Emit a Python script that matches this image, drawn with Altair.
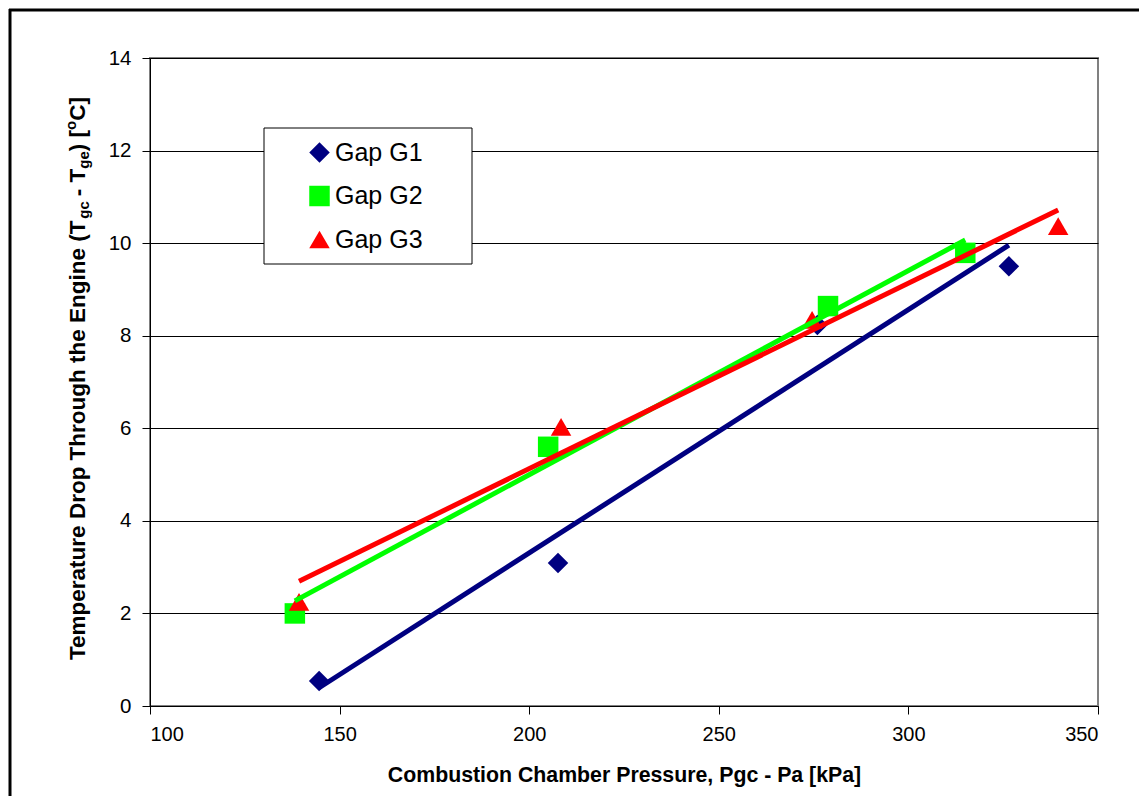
import altair as alt
import pandas as pd

# ---------------- data ----------------
series_names = ["Gap G1", "Gap G2", "Gap G3"]
g1_pressure = [144.6, 207.6, 276.0, 326.5]
g1_drop = [0.54, 3.09, 8.23, 9.50]
g2_pressure = [138.2, 205.0, 278.8, 315.0]
g2_drop = [2.00, 5.60, 8.64, 9.79]
g3_pressure = [139.3, 208.4, 274.6, 339.5]
g3_drop = [2.25, 6.03, 8.34, 10.37]

series_colors = ["#000080", "#00FF00", "#FF0000"]
series_shapes = ["diamond", "square", "triangle-up"]
x_ticks = [100, 150, 200, 250, 300, 350]
y_ticks = [0, 2, 4, 6, 8, 10, 12, 14]
x_title = "Combustion Chamber Pressure, Pgc - Pa [kPa]"

rows = []
for name, xs, ys in zip(series_names,
                        [g1_pressure, g2_pressure, g3_pressure],
                        [g1_drop, g2_drop, g3_drop]):
    for xv, yv in zip(xs, ys):
        rows.append({"series": name, "pressure": xv, "drop": yv})
df = pd.DataFrame(rows)
one = pd.DataFrame({"k": [0]})

W, H = 948, 648
FONT = "Liberation Sans"

xscale = alt.Scale(domain=[100, 350], nice=False, zero=False)
yscale = alt.Scale(domain=[0, 14], nice=False)

xaxis = alt.Axis(values=x_ticks, title=x_title, grid=False, tickSize=8,
                 tickColor="black", domainColor="black", labelPadding=10,
                 labelFontSize=20, labelFont=FONT, labelColor="black",
                 titleFont=FONT, titleFontSize=21.3, titleFontWeight="bold",
                 titleColor="black", titleY=58, titleBaseline="top")
yaxis = alt.Axis(values=y_ticks, title=None, grid=True, gridColor="black",
                 gridWidth=1, tickSize=8, tickColor="black", domainColor="black",
                 labelPadding=11, labelFontSize=20.5, labelFont=FONT,
                 labelColor="black")

X = alt.X("pressure:Q", scale=xscale, axis=xaxis)
Y = alt.Y("drop:Q", scale=yscale, axis=yaxis)

# outer frame (decoration): left and top edges
frame_left = alt.Chart(one).mark_rule(color="black", strokeWidth=3).encode(
    x=alt.value(-140), y=alt.value(-49), y2=alt.value(760))
frame_top = alt.Chart(one).mark_rule(color="black", strokeWidth=3).encode(
    x=alt.value(-141), x2=alt.value(1000), y=alt.value(-48))

# legend box (decoration)
legend_box = alt.Chart(one).mark_rect(fill="white", stroke="black",
                                      strokeWidth=1).encode(
    x=alt.value(114), x2=alt.value(322), y=alt.value(70), y2=alt.value(206))

leg = dict(orient="none", legendX=157, legendY=82, title=None,
           labelFontSize=25, labelFont=FONT, labelColor="black",
           symbolSize=420, symbolStrokeWidth=0, rowPadding=17.5,
           labelOffset=3, padding=0)

points = alt.Chart(df).mark_point(filled=True, opacity=1, size=420).encode(
    x=X, y=Y,
    color=alt.Color("series:N",
                    scale=alt.Scale(domain=series_names, range=series_colors),
                    legend=alt.Legend(**leg)),
    shape=alt.Shape("series:N",
                    scale=alt.Scale(domain=series_names, range=series_shapes),
                    legend=alt.Legend(**leg)),
)

trend_layers = []
for name, col in zip(series_names, series_colors):
    trend_layers.append(
        alt.Chart(df).transform_filter(alt.datum.series == name)
        .transform_regression("pressure", "drop")
        .mark_line(color=col, strokeWidth=5)
        .encode(x=X, y=Y)
    )

# ---------- y axis title with sub/superscripts ----------
ARIAL_BOLD = {"T": 611, "e": 556, "m": 889, "p": 611, "r": 389, "a": 556,
              "t": 333, "u": 611, " ": 278, "\u00a0": 278, "D": 722, "o": 611,
              "h": 611, "g": 611, "E": 667, "n": 611, "i": 278, "(": 333,
              ")": 333, "-": 333, "[": 333, "]": 333, "C": 722, "c": 556}


def text_width(s, size):
    return sum(ARIAL_BOLD.get(ch, 556) for ch in s) * size / 1000.0


MAIN, SMALL = 22.5, 15
base_x = -65
# (text, font size, baseline shift, extra gap after)
pieces = [
    ("Temperature Drop Through the Engine (T", MAIN, 0, 0),
    ("gc", SMALL, 4, 5),
    ("-\u00a0T", MAIN, 0, 0),
    ("ge", SMALL, 4, 0),
    (")\u00a0[", MAIN, 0, 0),
    ("o", SMALL, -9, 0),
    ("C]", MAIN, 0, 0),
]
title_layers = []
ycur = 602.0
for txt, size, shift, gap in pieces:
    title_layers.append(
        alt.Chart(one).mark_text(text=txt, angle=270, align="left",
                                 baseline="alphabetic", font=FONT,
                                 fontWeight="bold", fontSize=size,
                                 color="black")
        .encode(x=alt.value(base_x + shift), y=alt.value(ycur))
    )
    ycur -= text_width(txt, size) + gap

chart = alt.layer(frame_left, frame_top, legend_box, points, *trend_layers,
                  *title_layers).properties(
    width=W, height=H,
    autosize=alt.AutoSizeParams(type="none"),
    padding={"left": 142, "top": 50, "right": 41, "bottom": 90},
    background="white",
).configure_view(stroke="#808080", strokeWidth=2)

chart.save("out.html", embed_options={"renderer": "svg", "actions": False})
